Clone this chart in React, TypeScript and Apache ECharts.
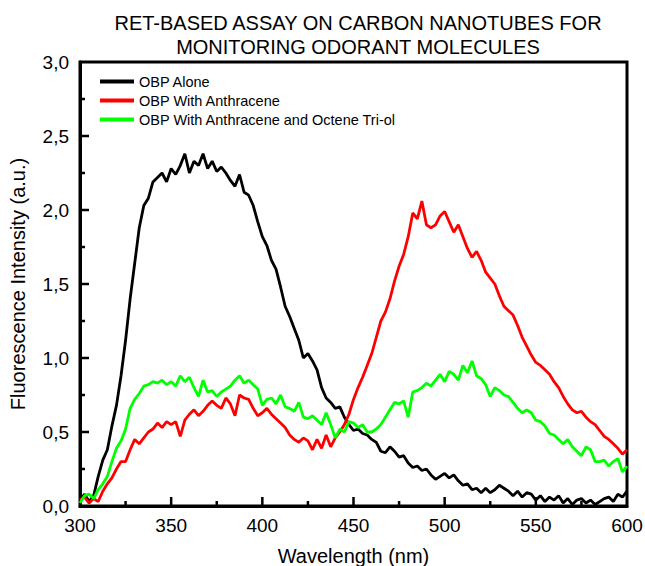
import React, { useEffect, useRef } from "react";
import * as echarts from "echarts";

const WL_START = 300;
const WL_STEP = 2.5;

const blackValues = [
  0.04, 0.08, 0.03, 0.07, 0.20, 0.31, 0.38, 0.54, 0.68, 0.88,
  1.12, 1.40, 1.64, 1.88, 2.03, 2.08, 2.19, 2.22, 2.25, 2.19,
  2.28, 2.24, 2.30, 2.38, 2.25, 2.33, 2.30, 2.38, 2.28, 2.33,
  2.26, 2.29, 2.25, 2.20, 2.16, 2.24, 2.12, 2.10, 2.03, 1.92,
  1.82, 1.76, 1.66, 1.60, 1.48, 1.35, 1.28, 1.20, 1.12, 1.00,
  1.03, 0.98, 0.92, 0.80, 0.73, 0.70, 0.66, 0.67, 0.60, 0.55,
  0.51, 0.52, 0.49, 0.48, 0.45, 0.43, 0.37, 0.36, 0.40, 0.37,
  0.33, 0.34, 0.29, 0.26, 0.27, 0.24, 0.25, 0.21, 0.18, 0.20,
  0.22, 0.19, 0.21, 0.17, 0.14, 0.15, 0.11, 0.12, 0.09, 0.12,
  0.09, 0.11, 0.14, 0.12, 0.10, 0.07, 0.10, 0.06, 0.09, 0.08,
  0.04, 0.07, 0.03, 0.06, 0.04, 0.07, 0.02, 0.05, 0.01, 0.04,
  0.05, 0.02, 0.04, 0.01, 0.03, 0.05, 0.06, 0.03, 0.08, 0.06,
  0.10,
];

const redValues = [
  0.04, 0.06, 0.02, 0.05, 0.03, 0.10, 0.15, 0.19, 0.25, 0.30,
  0.30, 0.38, 0.45, 0.42, 0.46, 0.50, 0.52, 0.56, 0.53, 0.57,
  0.55, 0.57, 0.47, 0.58, 0.62, 0.65, 0.61, 0.64, 0.68, 0.71,
  0.68, 0.66, 0.73, 0.69, 0.61, 0.75, 0.73, 0.72, 0.66, 0.61,
  0.63, 0.66, 0.62, 0.59, 0.56, 0.53, 0.48, 0.45, 0.43, 0.46,
  0.44, 0.38, 0.45, 0.39, 0.48, 0.40, 0.46, 0.50, 0.55, 0.62,
  0.72, 0.80, 0.87, 0.95, 1.03, 1.14, 1.25, 1.31, 1.40, 1.52,
  1.62, 1.70, 1.82, 1.98, 1.94, 2.06, 1.90, 1.88, 1.90, 1.96,
  1.99, 1.92, 1.85, 1.90, 1.82, 1.74, 1.68, 1.72, 1.66, 1.58,
  1.54, 1.50, 1.42, 1.35, 1.32, 1.29, 1.22, 1.14, 1.08, 1.02,
  0.97, 0.95, 0.92, 0.89, 0.84, 0.80, 0.74, 0.69, 0.65, 0.63,
  0.64, 0.60, 0.57, 0.55, 0.51, 0.47, 0.45, 0.42, 0.39, 0.35,
  0.38,
];

const greenValues = [
  0.02, 0.07, 0.08, 0.05, 0.11, 0.15, 0.20, 0.30, 0.39, 0.44,
  0.52, 0.66, 0.72, 0.76, 0.81, 0.82, 0.84, 0.83, 0.85, 0.82,
  0.84, 0.81, 0.88, 0.84, 0.87, 0.80, 0.74, 0.85, 0.77, 0.78,
  0.74, 0.77, 0.79, 0.81, 0.85, 0.88, 0.83, 0.85, 0.82, 0.79,
  0.68, 0.72, 0.73, 0.69, 0.75, 0.67, 0.66, 0.64, 0.70, 0.60,
  0.59, 0.61, 0.58, 0.55, 0.63, 0.55, 0.46, 0.52, 0.50, 0.57,
  0.56, 0.53, 0.55, 0.50, 0.50, 0.52, 0.55, 0.60, 0.65, 0.70,
  0.69, 0.71, 0.60, 0.77, 0.78, 0.80, 0.83, 0.81, 0.85, 0.89,
  0.84, 0.91, 0.89, 0.85, 0.95, 0.90, 0.98, 0.88, 0.86, 0.82,
  0.74, 0.80, 0.78, 0.75, 0.74, 0.70, 0.66, 0.63, 0.65, 0.63,
  0.58, 0.57, 0.54, 0.49, 0.48, 0.45, 0.42, 0.45, 0.40, 0.37,
  0.34, 0.40, 0.38, 0.30, 0.30, 0.31, 0.27, 0.30, 0.32, 0.23,
  0.27,
];

const seriesNames = [
  "OBP Alone",
  "OBP With Anthracene",
  "OBP With Anthracene and Octene Tri-ol",
];
const seriesColors = ["#000000", "#ff0000", "#00ff00"];
const titleText = "RET-BASED ASSAY ON CARBON NANOTUBES FOR\nMONITORING ODORANT MOLECULES";
const xName = "Wavelength (nm)";
const yName = "Fluorescence Intensity (a.u.)";

const X_MIN = 300;
const X_MAX = 600;
const X_STEP = 50;
const Y_MIN = 0;
const Y_MAX = 3;
const Y_STEP = 0.5;

// tick positions along each axis
const xMajorTicks = [350, 400, 450, 500, 550];
const xMinorTicks = [325, 375, 425, 475, 525, 575];
const yMajorTicks = [0.5, 1.0, 1.5, 2.0, 2.5];
const yMinorTicks = [0.25, 0.75, 1.25, 1.75, 2.25, 2.75];

const FONT = "Liberation Sans, Arial, Helvetica, sans-serif";
const MAJOR_LEN = 9;
const MINOR_LEN = 5;
const TICK_W = 2.5;

function toPairs(values: number[]) {
  return values.map((v, i) => [WL_START + i * WL_STEP, v]);
}

function tickSeries(data: number[][], size: number[], offset: number[]) {
  return {
    type: "scatter",
    silent: true,
    clip: false,
    z: 10,
    symbol: "rect",
    symbolSize: size,
    symbolOffset: offset,
    itemStyle: { color: "#000000", opacity: 1 },
    data,
  };
}

export default function App() {
  const ref = useRef<HTMLDivElement>(null);
  useEffect(() => {
    if (!ref.current) return;
    const chart = echarts.init(ref.current, undefined, { renderer: "svg" });
    const allValues = [blackValues, redValues, greenValues];
    const lineSeries = seriesNames.map((name, i) => ({
      name,
      type: "line",
      data: toPairs(allValues[i]),
      showSymbol: false,
      symbol: "none",
      color: seriesColors[i],
      lineStyle: { color: seriesColors[i], width: 2.8 },
      z: 2 + i,
    }));
    const ticks = [
      tickSeries(
        xMajorTicks.map((v) => [v, Y_MIN]),
        [TICK_W, MAJOR_LEN],
        [0, -MAJOR_LEN / 2]
      ),
      tickSeries(
        xMinorTicks.map((v) => [v, Y_MIN]),
        [TICK_W, MINOR_LEN],
        [0, -MINOR_LEN / 2]
      ),
      tickSeries(
        yMajorTicks.map((v) => [X_MIN, v]),
        [MAJOR_LEN, TICK_W],
        [MAJOR_LEN / 2, 0]
      ),
      tickSeries(
        yMinorTicks.map((v) => [X_MIN, v]),
        [MINOR_LEN, TICK_W],
        [MINOR_LEN / 2, 0]
      ),
    ];
    chart.setOption({
      animation: false,
      backgroundColor: "#ffffff",
      title: {
        text: titleText,
        left: 353,
        top: 6,
        textAlign: "center",
        textStyle: {
          fontFamily: FONT,
          fontSize: 20,
          fontWeight: "normal",
          color: "#000",
          lineHeight: 24,
        },
      },
      legend: {
        orient: "vertical",
        left: 95,
        top: 69,
        icon: "rect",
        itemWidth: 34,
        itemHeight: 4,
        itemGap: 4,
        data: seriesNames,
        textStyle: {
          fontFamily: FONT,
          fontSize: 14.5,
          color: "#000",
        },
      },
      grid: {
        left: 80,
        top: 62,
        width: 547,
        height: 444,
        outerBoundsMode: "none",
        containLabel: false,
        show: true,
        borderColor: "#000",
        borderWidth: 3,
        backgroundColor: "transparent",
      },
      xAxis: {
        type: "value",
        min: X_MIN,
        max: X_MAX,
        interval: X_STEP,
        name: xName,
        nameLocation: "middle",
        nameGap: 40,
        nameTextStyle: { fontFamily: FONT, fontSize: 20, color: "#000" },
        axisLine: { show: true, onZero: false, lineStyle: { color: "#000", width: 3 } },
        axisTick: { show: false },
        splitLine: { show: false },
        axisLabel: {
          fontFamily: FONT,
          fontSize: 19,
          color: "#000",
          margin: 10,
        },
      },
      yAxis: {
        type: "value",
        min: Y_MIN,
        max: Y_MAX,
        interval: Y_STEP,
        name: yName,
        nameLocation: "middle",
        nameGap: 52,
        nameTextStyle: { fontFamily: FONT, fontSize: 20, color: "#000" },
        axisLine: { show: true, onZero: false, lineStyle: { color: "#000", width: 3 } },
        axisTick: { show: false },
        splitLine: { show: false },
        axisLabel: {
          fontFamily: FONT,
          fontSize: 19,
          color: "#000",
          margin: 11,
          formatter: (v: number) => v.toFixed(1).replace(".", ","),
        },
      },
      series: [...lineSeries, ...ticks],
    });
    return () => {
      chart.dispose();
    };
  }, []);
  return (
    <div
      ref={ref}
      style={{ position: "absolute", left: 0, top: 0, width: 645, height: 566 }}
    />
  );
}
